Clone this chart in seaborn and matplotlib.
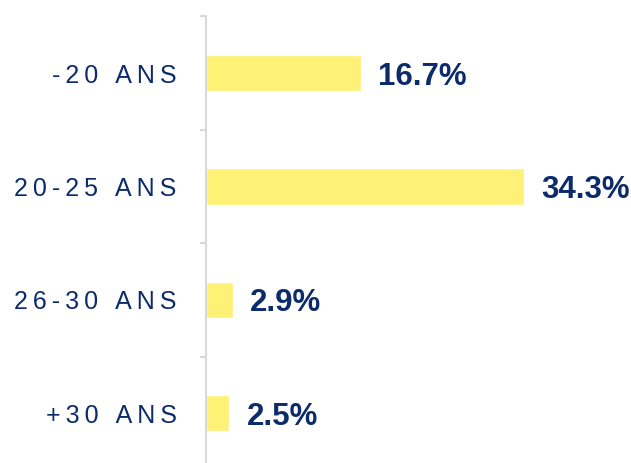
import matplotlib
matplotlib.use("Agg")
import matplotlib.pyplot as plt
import seaborn as sns
import pandas as pd

# --- Données ---
tranches = ['-20 ANS', '20-25 ANS', '26-30 ANS', '+30 ANS']
pourcentages = [16.7, 34.3, 2.9, 2.5]

BLEU = '#0B2B6B'
JAUNE = '#FFF176'
GRIS = '#D9D9D9'

sns.set_style('white')
plt.rcParams['font.family'] = ['Liberation Sans', 'DejaVu Sans']

df = pd.DataFrame({'Tranche': tranches, 'Pourcentage': pourcentages})

fig = plt.figure(figsize=(6.31, 4.63), dpi=100)
ax = fig.add_axes([206 / 631, -7 / 463, 414.5 / 631, 453.5 / 463])

sns.barplot(data=df, x='Pourcentage', y='Tranche', orient='h',
            color=JAUNE, saturation=1, width=0.32, ax=ax)

ax.set_xlim(0, 44.7)
ax.set_ylim(3.5, -0.5)

# étiquettes de valeur
etiquettes = ax.bar_label(ax.containers[0], labels=[f'{v:.1f}%' for v in pourcentages],
                          padding=12.5, fontsize=22.5, fontweight='bold', color=BLEU)
for t in etiquettes:
    t.set_va('center_baseline')

# axe vertical gris avec petits traits entre les catégories
for s in ['top', 'right', 'bottom']:
    ax.spines[s].set_visible(False)
ax.spines['left'].set_color(GRIS)
ax.spines['left'].set_linewidth(1.5)

ax.set_yticks(range(len(tranches)))
ax.set_yticks([i - 0.5 for i in range(len(tranches) + 1)], minor=True)
# lettres espacées
ax.set_yticklabels(['\u2009'.join(t) for t in tranches], fontsize=18, color=BLEU)
ax.tick_params(axis='y', which='major', length=0, pad=21)
ax.tick_params(axis='y', which='minor', length=4.5, width=1.5, color=GRIS, left=True)
ax.set_xticks([])
ax.set_xlabel('')
ax.set_ylabel('')

fig.savefig('out.png', dpi=100)
